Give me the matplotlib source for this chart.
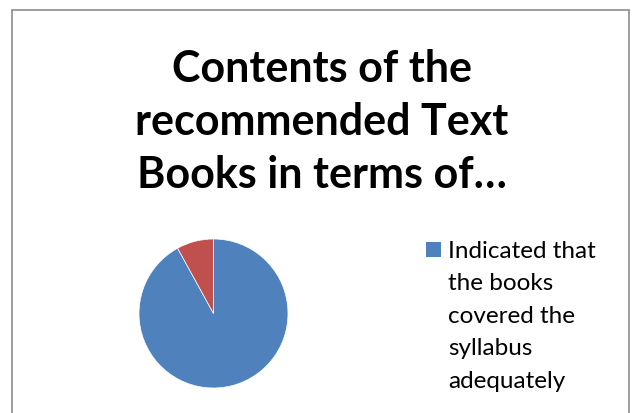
import matplotlib
matplotlib.use("Agg")
from matplotlib import pyplot as plt
from matplotlib.patches import Rectangle

# share of respondents per answer
answers = ["Indicated that the books covered the syllabus adequately",
           "Indicated that the books did not cover the syllabus adequately"]
shares = [92, 8]
colors = ["#4F81BD", "#C0504D"]

title_lines = ["Contents of the", "recommended Text", "Books in terms of\u2026"]
legend_lines = ["Indicated that", "the books", "covered the", "syllabus", "adequately"]

W, H = 632, 414
fig = plt.figure(figsize=(W / 100, H / 100), dpi=100)
fig.patch.set_facecolor("white")

# chart frame (bottom edge runs off the image)
fig.add_artist(Rectangle((12 / W, -0.05), (629 - 12) / W, (H - 11) / H + 0.05,
                         transform=fig.transFigure, fill=False,
                         edgecolor="#8c8c8c", linewidth=1.2))

for i, line in enumerate(title_lines):
    fig.text(322 / W, 1 - (82 + i * 53) / H, line, ha="center", va="baseline",
             fontsize=31, fontweight="bold", family="Lato", color="black")

# pie
cx, cy, r = 213.5, 314.5, 74.5
ax = fig.add_axes([(cx - r) / W, (H - cy - r) / H, 2 * r / W, 2 * r / H])
ax.pie(shares, colors=colors, startangle=90, counterclock=False, radius=1,
       wedgeprops=dict(edgecolor="white", linewidth=0.5))
ax.set_xlim(-1, 1)
ax.set_ylim(-1, 1)
ax.set_aspect("equal")
ax.axis("off")

# legend, only the first entry fits inside the frame
fig.add_artist(Rectangle((426 / W, 1 - 258 / H), 15 / W, 15 / H,
                         transform=fig.transFigure, facecolor=colors[0],
                         edgecolor="none"))
for i, line in enumerate(legend_lines):
    fig.text(448 / W, 1 - (258 + i * 32.5) / H, line, ha="left", va="baseline",
             fontsize=17.5, family="Lato", color="black")

fig.savefig("out.png", dpi=100)
